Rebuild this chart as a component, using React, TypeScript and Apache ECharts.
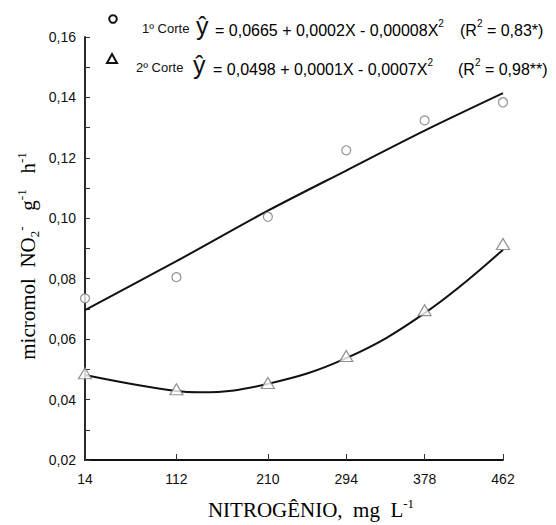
import React, { useEffect, useRef } from "react";
import * as echarts from "echarts";

const xTicks = [14, 112, 210, 294, 378, 462];
const corte1Obs = [0.0735, 0.0805, 0.1005, 0.1225, 0.1324, 0.1384];
const corte2Obs = [0.0487, 0.0434, 0.0455, 0.0544, 0.0696, 0.0915];
const fit1X = [14, 112, 210, 294, 378, 462];
const fit1Y = [0.0696, 0.0858, 0.1025, 0.1158, 0.129, 0.1414];
const fit2X = [14, 112, 137, 210, 294, 378, 462];
const fit2Y = [0.0481, 0.0428, 0.0424, 0.0452, 0.0537, 0.0686, 0.0896];

const SANS = "Liberation Sans, Arial, sans-serif";
const SERIF = "Liberation Serif, Times New Roman, serif";

const zip = (xs: number[], ys: number[]) => xs.map((x, i) => [x, ys[i]]);

export default function App() {
  const ref = useRef<HTMLDivElement>(null);
  useEffect(() => {
    if (!ref.current) return;
    const chart = echarts.init(ref.current, undefined, { renderer: "svg" });
    const supRich = {
      a: { fontSize: 16, fontFamily: SANS, color: "#111", lineHeight: 20, verticalAlign: "bottom" },
      s: { fontSize: 10, fontFamily: SANS, color: "#111", lineHeight: 10, verticalAlign: "top" },
    };
    const serifRich = (size: number) => ({
      a: { fontSize: size, fontFamily: SERIF, color: "#111", lineHeight: 26, verticalAlign: "middle" },
      sub: { fontSize: 13, fontFamily: SERIF, color: "#111", lineHeight: 13, verticalAlign: "bottom" },
      sup: { fontSize: 13, fontFamily: SERIF, color: "#111", lineHeight: 13, verticalAlign: "top" },
    });
    const legendRow = (y: number, marker: any, label: string, eq: string, r2: string, xLabel: number, xHat: number, xEq: number, xR: number) => [
      marker,
      { type: "text", x: xLabel, y, style: { text: label, fontSize: 13, fontFamily: SANS, fill: "#111", verticalAlign: "middle" } },
      { type: "text", x: xHat, y: y - 2, style: { text: "ŷ", fontSize: 25, fontFamily: SANS, fill: "#111", verticalAlign: "middle" } },
      { type: "text", x: xEq, y, style: { text: `{a|${eq}}{s|2}`, rich: supRich, verticalAlign: "middle" } },
      { type: "text", x: xR, y, style: { text: `{a|(R}{s|2}{a| = ${r2})}`, rich: supRich, verticalAlign: "middle" } },
    ];
    chart.setOption({
      animation: false,
      backgroundColor: "#fff",
      grid: { left: 85, top: 37, right: 53, bottom: 65, containLabel: false },
      xAxis: {
        type: "value",
        min: 14,
        max: 462,
        splitLine: { show: false },
        axisLine: { show: true, lineStyle: { color: "#111", width: 1.8 } },
        axisTick: { show: true, inside: true, length: 6, customValues: xTicks, lineStyle: { color: "#333" } },
        axisLabel: { customValues: xTicks, fontSize: 14, fontFamily: SANS, color: "#111", margin: 12 },
      },
      yAxis: {
        type: "value",
        min: 0.02,
        max: 0.16,
        interval: 0.02,
        splitLine: { show: false },
        axisLine: { show: true, lineStyle: { color: "#111", width: 1.8 } },
        axisTick: { show: true, inside: true, length: 5, lineStyle: { color: "#333" } },
        minorTick: { show: true, splitNumber: 2, length: 5, lineStyle: { color: "#333" } },
        axisLabel: {
          fontSize: 14,
          fontFamily: SANS,
          color: "#111",
          margin: 9,
          formatter: (v: number) => v.toFixed(2).replace(".", ","),
        },
      },
      series: [
        {
          type: "line",
          data: zip(fit1X, fit1Y),
          smooth: 0.3,
          showSymbol: false,
          lineStyle: { color: "#111", width: 2 },
          z: 2,
        },
        {
          type: "line",
          data: zip(fit2X, fit2Y),
          smooth: 0.4,
          showSymbol: false,
          lineStyle: { color: "#111", width: 2 },
          z: 2,
        },
        {
          type: "scatter",
          data: zip(xTicks, corte1Obs),
          symbol: "circle",
          symbolSize: 9,
          itemStyle: { color: "#fff", borderColor: "#777", borderWidth: 1.2 },
          z: 5,
        },
        {
          type: "scatter",
          data: zip(xTicks, corte2Obs),
          symbol: "triangle",
          symbolSize: [13, 11],
          itemStyle: { color: "#fff", borderColor: "#777", borderWidth: 1.2 },
          z: 5,
        },
      ],
      graphic: [
        ...legendRow(
          28,
          { type: "circle", shape: { cx: 113, cy: 19, r: 3.8 }, style: { fill: "none", stroke: "#111", lineWidth: 2 } },
          "1º Corte",
          "= 0,0665 + 0,0002X - 0,00008X",
          "0,83*",
          142,
          196,
          215,
          460
        ),
        ...legendRow(
          67,
          { type: "polygon", shape: { points: [[112, 54], [117, 63], [107, 63]] }, style: { fill: "none", stroke: "#111", lineWidth: 2 } },
          "2º Corte",
          "= 0,0498 + 0,0001X - 0,0007X",
          "0,98**",
          136,
          193,
          213,
          458
        ),
        {
          type: "text",
          x: 28,
          y: 256,
          rotation: Math.PI / 2,
          style: {
            text: "{a|micromol  NO}{sub|2}{sup|-}{a|   g}{sup|-1}{a|   h}{sup|-1}",
            rich: serifRich(21),
            align: "center",
            verticalAlign: "middle",
          },
        },
        {
          type: "text",
          x: 311,
          y: 510,
          style: {
            text: "{a|NITROGÊNIO,  mg  L}{sup|-1}",
            rich: serifRich(21),
            align: "center",
            verticalAlign: "middle",
          },
        },
      ],
    });
    return () => chart.dispose();
  }, []);
  return <div ref={ref} style={{ position: "fixed", left: 0, top: 0, width: 556, height: 525 }} />;
}
